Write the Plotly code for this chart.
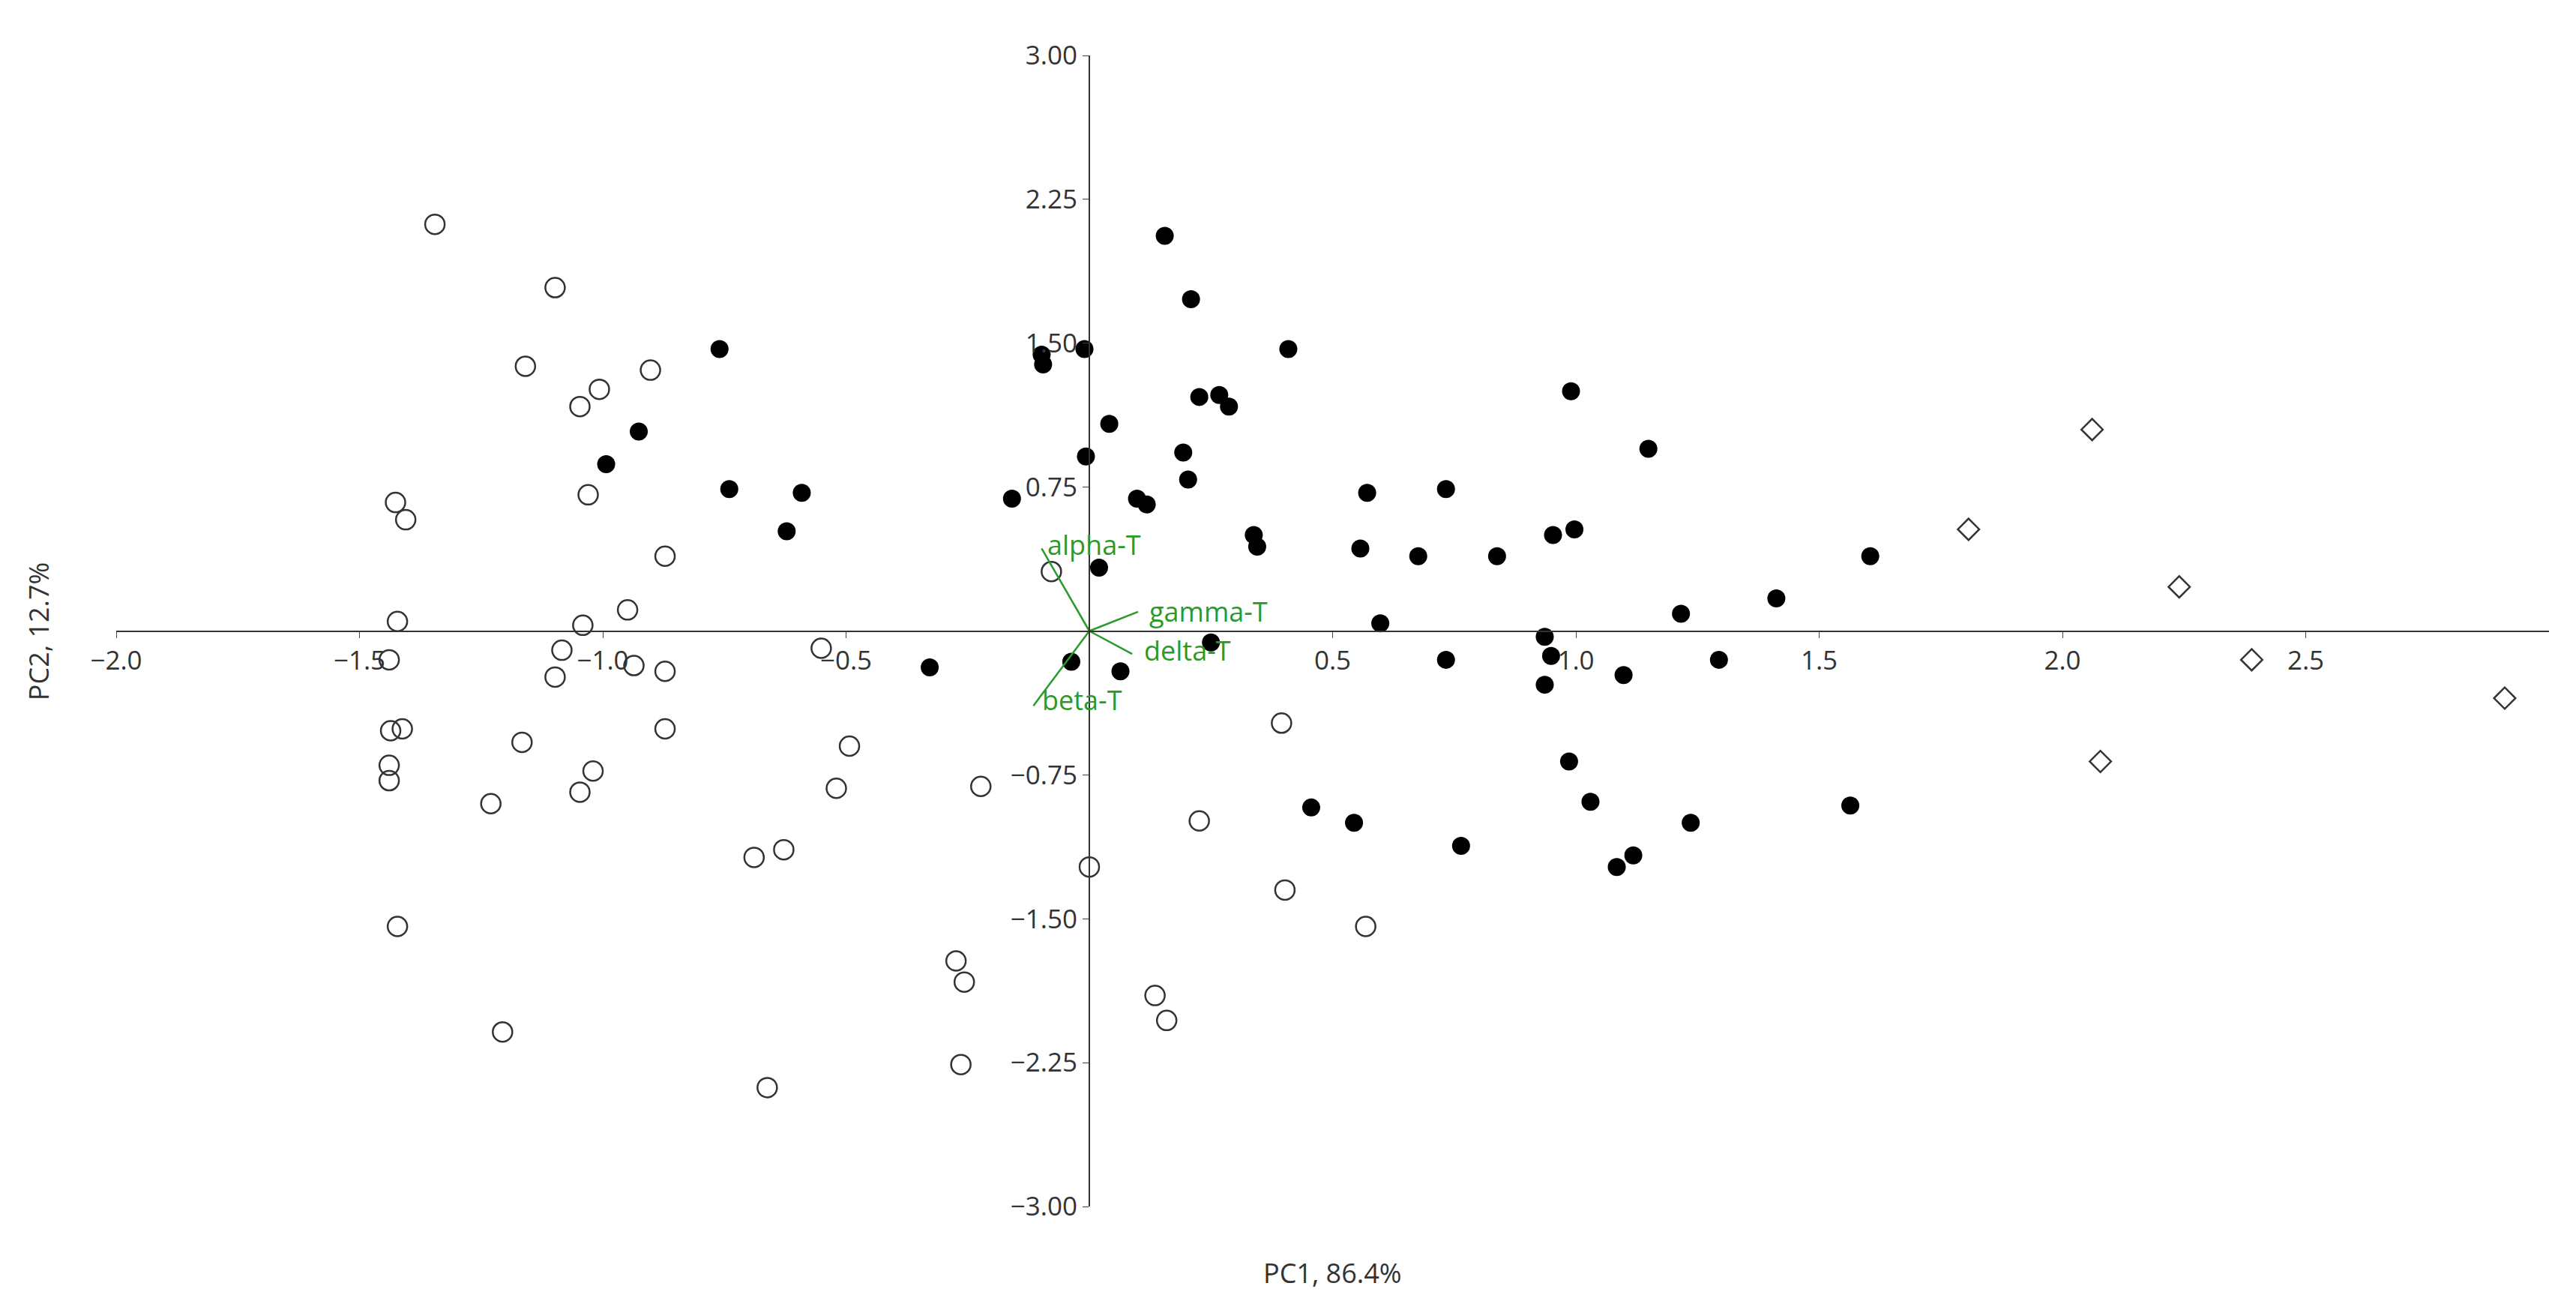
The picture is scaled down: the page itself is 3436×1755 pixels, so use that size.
import plotly.graph_objects as go

# Group A (open circles)
open_x = [-1.345, -1.098, -1.159, -1.047, -1.007, -0.902, -1.426, -1.405, -1.030, -0.872,
          -1.422, -0.949, -1.041, -1.084, -1.098, -0.936, -0.872, -1.439, -1.436, -1.412,
          -1.439, -1.439, -1.166, -1.020, -1.047, -0.872, -1.230, -1.422, -1.206, -0.551,
          -0.493, -0.520, -0.689, -0.628, -0.223, -0.078, 0.000, -0.274, -0.257, -0.264,
          -0.662, 0.135, 0.159, 0.226, 0.395, 0.402, 0.568]
open_y = [2.12, 1.79, 1.38, 1.17, 1.26, 1.36, 0.67, 0.58, 0.71, 0.39,
          0.05, 0.11, 0.03, -0.10, -0.24, -0.18, -0.21, -0.15, -0.52, -0.51,
          -0.70, -0.78, -0.58, -0.73, -0.84, -0.51, -0.90, -1.54, -2.09, -0.09,
          -0.60, -0.82, -1.18, -1.14, -0.81, 0.31, -1.23, -1.72, -1.83, -2.26,
          -2.38, -1.90, -2.03, -0.99, -0.48, -1.35, -1.54]

# Group B (filled circles)
fill_x = [-0.760, -0.926, -0.993, -0.740, -0.591, -0.622, -0.328, -0.159, -0.098, -0.095,
          -0.010, -0.007, 0.041, 0.020, -0.037, 0.064, 0.155, 0.209, 0.226, 0.267,
          0.287, 0.193, 0.203, 0.098, 0.118, 0.250, 0.409, 0.338, 0.345, 0.571,
          0.557, 0.598, 0.676, 0.733, 0.733, 0.838, 0.456, 0.544, 0.764, 0.990,
          0.997, 0.953, 0.936, 0.949, 0.936, 0.986, 1.030, 1.098, 1.084, 1.118,
          1.149, 1.216, 1.294, 1.236, 1.412, 1.564, 1.605]
fill_y = [1.47, 1.04, 0.87, 0.74, 0.72, 0.52, -0.19, 0.69, 1.44, 1.39,
          1.47, 0.91, 1.08, 0.33, -0.16, -0.21, 2.06, 1.73, 1.22, 1.23,
          1.17, 0.93, 0.79, 0.69, 0.66, -0.06, 1.47, 0.50, 0.44, 0.72,
          0.43, 0.04, 0.39, 0.74, -0.15, 0.39, -0.92, -1.00, -1.12, 1.25,
          0.53, 0.50, -0.03, -0.13, -0.28, -0.68, -0.89, -0.23, -1.23, -1.17,
          0.95, 0.09, -0.15, -1.00, 0.17, -0.91, 0.39]

# Group C (diamonds)
dia_x = [2.061, 1.807, 2.240, 2.389, 2.909, 2.078]
dia_y = [1.05, 0.53, 0.23, -0.15, -0.35, -0.68]

# Loadings
load_names = ["alpha-T", "gamma-T", "delta-T", "beta-T"]
load_x = [-0.098, 0.10, 0.088, -0.115]
load_y = [0.43, 0.10, -0.12, -0.39]

x_ticks = [-2.0, -1.5, -1.0, -0.5, 0.5, 1.0, 1.5, 2.0, 2.5]
y_ticks = [3.00, 2.25, 1.50, 0.75, -0.75, -1.50, -2.25, -3.00]

FONT = "Open Sans"
GREEN = "#2a9a2a"

fig = go.Figure()
fig.add_trace(go.Scatter(
    x=open_x, y=open_y, mode="markers", name="A",
    marker=dict(symbol="circle-open", size=26, color="#333333", line=dict(width=2.5)),
))
fig.add_trace(go.Scatter(
    x=fill_x, y=fill_y, mode="markers", name="B",
    marker=dict(symbol="circle", size=24, color="black"),
))
fig.add_trace(go.Scatter(
    x=dia_x, y=dia_y, mode="markers", name="C",
    marker=dict(symbol="diamond-open", size=22, color="#333333", line=dict(width=2.5)),
))

# loading vectors
for name, lx, ly in zip(load_names, load_x, load_y):
    fig.add_trace(go.Scatter(
        x=[0, lx], y=[0, ly], mode="lines",
        line=dict(color=GREEN, width=2.5), hoverinfo="skip",
    ))
label_pos = {"alpha-T": (-0.09, 0.45), "gamma-T": (0.12, 0.10),
             "delta-T": (0.11, -0.10), "beta-T": (-0.10, -0.36)}
for name in load_names:
    px, py = label_pos[name]
    fig.add_annotation(x=px, y=py, text=name, showarrow=False, xanchor="left",
                       font=dict(family=FONT, size=36, color=GREEN))

fig.add_annotation(x=0.5, y=-0.075, xref="paper", yref="paper", text="PC1, 86.4%",
                   showarrow=False, xanchor="center",
                   font=dict(family=FONT, size=36, color="#333333"))
fig.add_annotation(x=-0.04, y=0.5, xref="paper", yref="paper", text="PC2, 12.7%",
                   showarrow=False, textangle=-90,
                   font=dict(family=FONT, size=36, color="#333333"))

fig.update_layout(
    width=3436, height=1755,
    margin=dict(l=147, r=44, t=66, b=154),
    plot_bgcolor="white", paper_bgcolor="white",
    showlegend=False,
    font=dict(family=FONT, size=35, color="#333333"),
    xaxis=dict(range=[-2.0, 3.0], anchor="free", position=0.5,
               tickvals=x_ticks, tickformat=".1f", ticks="outside", ticklen=8,
               showline=True, linecolor="#333333", linewidth=2,
               showgrid=False, zeroline=False),
    yaxis=dict(range=[-3.0, 3.0], anchor="free", position=0.4,
               tickvals=y_ticks, tickformat=".2f", ticks="outside", ticklen=8,
               showline=True, linecolor="#333333", linewidth=2,
               showgrid=False, zeroline=False),
)

fig.write_html("out.html")
